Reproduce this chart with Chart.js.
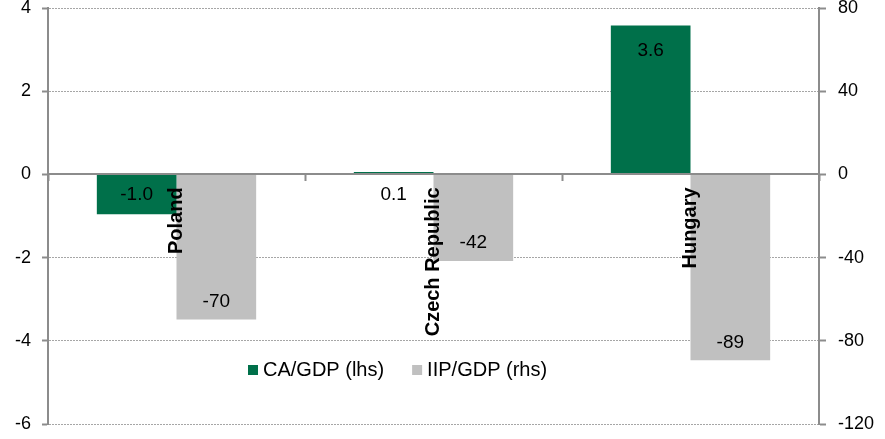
<!DOCTYPE html>
<html>
<head>
<meta charset="utf-8">
<script src="https://cdn.jsdelivr.net/npm/chart.js@4/dist/chart.umd.min.js"></script>
<style>
  body { margin: 0; background: #fff; }
  #wrap { width: 885px; height: 439px; position: relative; }
</style>
</head>
<body>
<div id="wrap"><canvas id="chartCanvas"></canvas></div>
<script>
var countries = ["Poland", "Czech Republic", "Hungary"];
var caValues = [-0.96, 0.06, 3.58];     // CA/GDP, lhs
var iipValues = [-69.7, -41.6, -89.4];  // IIP/GDP, rhs
var lhsTicks = [4, 2, 0, -2, -4, -6];
var rhsTicks = [80, 40, 0, -40, -80, -120];

var green = "#00704A";
var grey = "#C0C0C0";
var axisGrey = "#8C8C8C";

Chart.defaults.font.family = "'Liberation Sans', Arial, sans-serif";
Chart.defaults.color = "#000";

// numbers on the bars
var barLabels = {
  id: "barLabels",
  afterDatasetsDraw: function(chart) {
    var ctx = chart.ctx;
    var zero = chart.scales.y.getPixelForValue(0);
    ctx.save();
    ctx.font = "19px 'Liberation Sans', Arial";
    ctx.fillStyle = "#000";
    ctx.textAlign = "center";
    ctx.textBaseline = "middle";
    chart.getDatasetMeta(0).data.forEach(function(bar, i) {
      var v = caValues[i];
      var y = v > 1 ? bar.y + 25 : zero + 20;
      ctx.fillText(v.toFixed(1), bar.x, y);
    });
    chart.getDatasetMeta(1).data.forEach(function(bar, i) {
      ctx.fillText(Math.round(iipValues[i]), bar.x, bar.y - 18);
    });
    ctx.restore();
  }
};

// legend inside the plot
var innerLegend = {
  id: "innerLegend",
  afterDraw: function(chart) {
    var ctx = chart.ctx;
    var area = chart.chartArea;
    var x = area.left + 200;
    var y = area.bottom - 54;
    ctx.save();
    ctx.font = "20px 'Liberation Sans', Arial";
    ctx.textBaseline = "middle";
    ctx.textAlign = "left";
    chart.data.datasets.forEach(function(ds) {
      ctx.fillStyle = ds.backgroundColor;
      ctx.fillRect(x, y - 5, 10, 10);
      ctx.fillStyle = "#000";
      ctx.fillText(ds.label, x + 15, y);
      x += 15 + ctx.measureText(ds.label).width + 28;
    });
    ctx.restore();
  }
};

var ctx = document.getElementById("chartCanvas").getContext("2d");

var myChart = new Chart(ctx, {
  type: "bar",
  data: {
    labels: countries,
    datasets: [
      {
        label: "CA/GDP (lhs)",
        data: caValues,
        backgroundColor: green,
        yAxisID: "y",
        categoryPercentage: 0.62,
        barPercentage: 1
      },
      {
        label: "IIP/GDP (rhs)",
        data: iipValues,
        backgroundColor: grey,
        yAxisID: "y2",
        categoryPercentage: 0.62,
        barPercentage: 1
      }
    ]
  },
  options: {
    responsive: true,
    maintainAspectRatio: false,
    animation: false,
    layout: { padding: { top: 8, bottom: 15, left: 0, right: 0 } },
    plugins: {
      legend: { display: false },
      tooltip: { enabled: false }
    },
    scales: {
      x: {
        position: { y: 0 },
        offset: true,
        grid: {
          offset: true,
          drawOnChartArea: false,
          drawTicks: true,
          tickLength: 6,
          tickColor: axisGrey,
          tickWidth: 2,
          z: 1
        },
        border: { display: true, color: axisGrey, width: 2, z: 1 },
        ticks: {
          minRotation: 90,
          maxRotation: 90,
          autoSkip: false,
          padding: 7,
          z: 2,
          font: { size: 20, weight: "bold" }
        },
        afterFit: function(scale) {
          scale.paddingLeft = 0;
          scale.paddingRight = 0;
        }
      },
      y: {
        position: "left",
        min: -6,
        max: 4,
        afterBuildTicks: function(scale) {
          scale.ticks = lhsTicks.map(function(v) { return { value: v }; });
        },
        grid: {
          color: function(c) { return c.tick && c.tick.value === 0 ? "rgba(0,0,0,0)" : "#A6A6A6"; },
          lineWidth: 1,
          tickLength: 6,
          tickColor: axisGrey,
          tickWidth: 2
        },
        border: { display: true, color: axisGrey, width: 2, dash: [2, 1] },
        ticks: { padding: 11, font: { size: 18 } },
        afterFit: function(scale) {
          scale.width = 48;
          scale.paddingTop = 0;
          scale.paddingBottom = 0;
        }
      },
      y2: {
        position: "right",
        min: -120,
        max: 80,
        afterBuildTicks: function(scale) {
          scale.ticks = rhsTicks.map(function(v) { return { value: v }; });
        },
        grid: {
          drawOnChartArea: false,
          tickLength: 7,
          tickColor: axisGrey,
          tickWidth: 2
        },
        border: { display: true, color: axisGrey, width: 2 },
        ticks: { padding: 12, font: { size: 18 } },
        afterFit: function(scale) {
          scale.width = 66;
          scale.paddingTop = 0;
          scale.paddingBottom = 0;
        }
      }
    }
  },
  plugins: [barLabels, innerLegend]
});
</script>
</body>
</html>
